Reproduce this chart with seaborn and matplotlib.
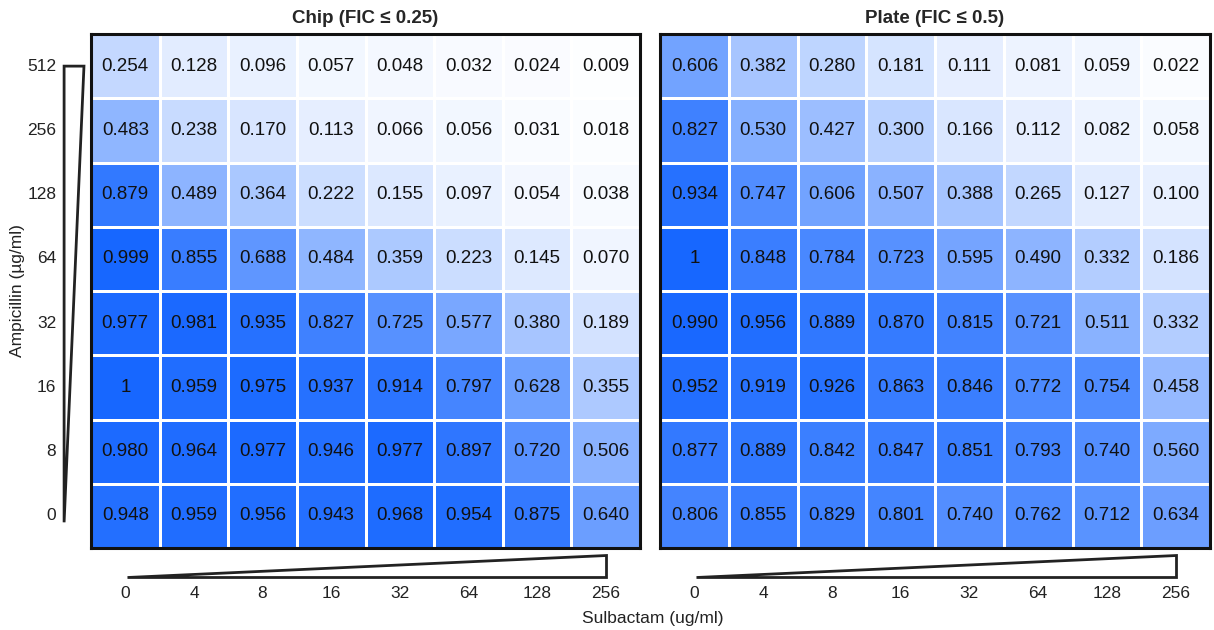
import numpy as np
import pandas as pd
import matplotlib
matplotlib.use("Agg")
import matplotlib.pyplot as plt
import matplotlib.transforms as mtransforms
from matplotlib.patches import Polygon
from matplotlib.colors import LinearSegmentedColormap
import seaborn as sns

sns.set_theme(style="white")
plt.rcParams['font.family'] = ['Liberation Sans', 'DejaVu Sans']

ampicillin = ["512", "256", "128", "64", "32", "16", "8", "0"]
sulbactam = ["0", "4", "8", "16", "32", "64", "128", "256"]

chip = [
    [0.254, 0.128, 0.096, 0.057, 0.048, 0.032, 0.024, 0.009],
    [0.483, 0.238, 0.170, 0.113, 0.066, 0.056, 0.031, 0.018],
    [0.879, 0.489, 0.364, 0.222, 0.155, 0.097, 0.054, 0.038],
    [0.999, 0.855, 0.688, 0.484, 0.359, 0.223, 0.145, 0.070],
    [0.977, 0.981, 0.935, 0.827, 0.725, 0.577, 0.380, 0.189],
    [1.000, 0.959, 0.975, 0.937, 0.914, 0.797, 0.628, 0.355],
    [0.980, 0.964, 0.977, 0.946, 0.977, 0.897, 0.720, 0.506],
    [0.948, 0.959, 0.956, 0.943, 0.968, 0.954, 0.875, 0.640],
]
plate = [
    [0.606, 0.382, 0.280, 0.181, 0.111, 0.081, 0.059, 0.022],
    [0.827, 0.530, 0.427, 0.300, 0.166, 0.112, 0.082, 0.058],
    [0.934, 0.747, 0.606, 0.507, 0.388, 0.265, 0.127, 0.100],
    [1.000, 0.848, 0.784, 0.723, 0.595, 0.490, 0.332, 0.186],
    [0.990, 0.956, 0.889, 0.870, 0.815, 0.721, 0.511, 0.332],
    [0.952, 0.919, 0.926, 0.863, 0.846, 0.772, 0.754, 0.458],
    [0.877, 0.889, 0.842, 0.847, 0.851, 0.793, 0.740, 0.560],
    [0.806, 0.855, 0.829, 0.801, 0.740, 0.762, 0.712, 0.634],
]
titles = ["Chip (FIC \u2264 0.25)", "Plate (FIC \u2264 0.5)"]

cmap = LinearSegmentedColormap.from_list("wb", ["#ffffff", "#1767ff"])

fig = plt.figure(figsize=(12.14, 6.3), dpi=100)
ax1 = fig.add_axes([91/1214, 1-548/630, 549/1214, 514/630])
ax2 = fig.add_axes([660/1214, 1-548/630, 550/1214, 514/630])


def fmt(v):
    return "1" if v == 1 else f"{v:.3f}"


for i, (ax, data, title) in enumerate(zip([ax1, ax2], [chip, plate], titles)):
    df = pd.DataFrame(data, index=ampicillin, columns=sulbactam)
    labels = np.array([[fmt(v) for v in row] for row in data])
    sns.heatmap(df, ax=ax, cmap=cmap, vmin=0, vmax=1, annot=labels, fmt="",
                cbar=False, linewidths=1.0, linecolor="white",
                annot_kws={"fontsize": 13.5, "color": "#111111"})
    for s in ax.spines.values():
        s.set_visible(True)
        s.set_color("#111111")
        s.set_linewidth(2.2)
    ax.tick_params(axis="both", direction="in", length=4, width=0.8, color="#888888",
                   top=True, right=True, bottom=True, left=True,
                   labeltop=False, labelright=False, labelsize=12.5, labelcolor="#222222")
    ax.tick_params(axis="x", pad=27)
    ax.tick_params(axis="y", pad=25)
    ax.set_yticklabels(ampicillin, rotation=0)
    ax.set_xticklabels(sulbactam, rotation=0)
    ax.set_xlabel("")
    ax.set_ylabel("")
    ax.set_title(title, fontsize=13.5, fontweight="bold", pad=8)
    if i == 1:
        ax.tick_params(axis="y", labelleft=False)

    # x wedge
    tx = mtransforms.blended_transform_factory(ax.transData, ax.transAxes)
    poly = Polygon([(0.52, -0.056), (7.5, -0.056), (7.5, -0.0136)], closed=True,
                   facecolor="white", edgecolor="#222222", linewidth=2,
                   transform=tx, clip_on=False)
    ax.add_patch(poly)

# y wedge
ty = mtransforms.blended_transform_factory(ax1.transAxes, ax1.transData)
poly = Polygon([(-0.049, 0.5), (-0.0128, 0.5), (-0.049, 7.6)], closed=True,
               facecolor="white", edgecolor="#222222", linewidth=2,
               transform=ty, clip_on=False)
ax1.add_patch(poly)

fig.text(18/1214, 1-291/630, "Ampicillin (\u00b5g/ml)", rotation=90, ha="center", va="center",
         fontsize=12.5, color="#222222")
fig.text(653/1214, 1-618/630, "Sulbactam (ug/ml)", ha="center", va="center",
         fontsize=12.5, color="#222222")

fig.savefig("out.png", dpi=100)
